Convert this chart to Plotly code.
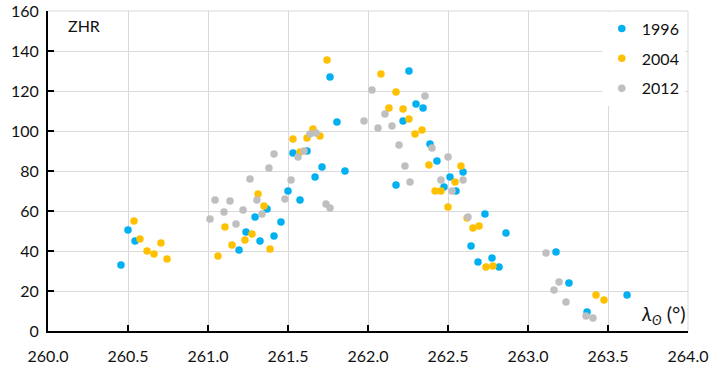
import plotly.graph_objects as go

# 1996
x1996 = [260.456, 260.5, 260.544, 261.194, 261.2375, 261.294, 261.325, 261.369, 261.4125, 261.456,
         261.5, 261.531, 261.575, 261.619, 261.669, 261.7125, 261.7625, 261.806, 261.856, 262.175,
         262.219, 262.256, 262.3, 262.344, 262.3875, 262.431, 262.475, 262.5125, 262.55, 262.594,
         262.644, 262.6875, 262.731, 262.775, 262.819, 262.8625, 263.175, 263.256, 263.369, 263.619]
y1996 = [33, 50.5, 45, 40.5, 49.5, 57, 45, 61, 47.5, 54.5,
         70, 89, 65.5, 90, 77, 82, 127, 104.5, 80, 73,
         105, 130, 113.5, 111.5, 93.5, 85, 72, 77, 70, 79.5,
         42.5, 34.5, 58.5, 36.5, 32, 49, 39.5, 24, 9.5, 18]

# 2004
x2004 = [260.5375, 260.575, 260.619, 260.6625, 260.706, 260.744, 261.0625, 261.106, 261.15, 261.231,
         261.275, 261.3125, 261.35, 261.3875, 261.531, 261.575, 261.619, 261.656, 261.7, 261.744,
         262.081, 262.131, 262.175, 262.219, 262.256, 262.294, 262.3375, 262.381, 262.419, 262.456,
         262.5, 262.544, 262.581, 262.619, 262.656, 262.694, 262.7375, 262.781, 263.425, 263.475]
y2004 = [55, 46, 40, 38.5, 44, 36, 37.5, 52, 43, 45.5,
         48.5, 68.5, 62.5, 41, 96, 89.5, 96.5, 101, 97.5, 135.5,
         128.5, 111.5, 119.5, 111, 106, 98.5, 100.5, 83, 70, 70,
         62, 74.5, 82.5, 56.5, 51.5, 52.5, 32, 32.5, 18, 15.5]

# 2012
x2012 = [261.0125, 261.044, 261.1, 261.1375, 261.175, 261.219, 261.2625, 261.306, 261.3375, 261.381,
         261.4125, 261.481, 261.519, 261.5625, 261.6, 261.6375, 261.675, 261.7375, 261.7625, 261.975,
         262.025, 262.0625, 262.106, 262.15, 262.194, 262.231, 262.2625, 262.356, 262.4, 262.456,
         262.5, 262.525, 262.594, 262.625, 263.1125, 263.1625, 263.194, 263.2375, 263.3625, 263.406]
y2012 = [56, 65.5, 59.5, 65, 53.5, 60.5, 76, 65.5, 58.5, 81.5,
         88.5, 66, 75.5, 87, 90, 98.5, 99, 63.5, 61.5, 105,
         120.5, 101.5, 108.5, 102.5, 93, 82.5, 74.5, 117.5, 91.5, 75.5,
         87, 70, 75.5, 57, 39, 20.5, 24.5, 14.5, 7.5, 6.5]

x_ticks = [260.0, 260.5, 261.0, 261.5, 262.0, 262.5, 263.0, 263.5, 264.0]
x_tick_labels = ["260.0", "260.5", "261.0", "261.5", "262.0", "262.5", "263.0", "263.5", "264.0"]
y_ticks = [0, 20, 40, 60, 80, 100, 120, 140, 160]

FONT = "Lato"
fig = go.Figure()
for name, xs, ys, col in [("1996", x1996, y1996, "#00B0F0"),
                          ("2004", x2004, y2004, "#FFC000"),
                          ("2012", x2012, y2012, "#BFBFBF")]:
    fig.add_trace(go.Scatter(x=xs, y=ys, mode="markers", name=name, legendgroup=name,
                             marker=dict(color=col, size=7.5, line=dict(width=0))))

fig.update_layout(
    width=717, height=368,
    margin=dict(l=48, r=29, t=11, b=37),
    plot_bgcolor="white", paper_bgcolor="white",
    font=dict(family=FONT, size=16, color="#111111"),
    showlegend=True,
    legend=dict(x=0.995, xanchor="right", y=0.998, yanchor="top", bgcolor="white",
                font=dict(family=FONT, size=16), tracegroupgap=6, itemwidth=30,
                borderwidth=0),
    xaxis=dict(range=[260, 264], tickvals=x_ticks, ticktext=x_tick_labels,
               showgrid=True, gridcolor="#D9D9D9", gridwidth=1,
               showline=True, linecolor="black", linewidth=2,
               ticks="inside", ticklen=6, tickcolor="black", tickwidth=2,
               ticklabelstandoff=10, zeroline=False, mirror=False, automargin=False,
               tickfont=dict(family=FONT, size=16)),
    yaxis=dict(range=[0, 160], tickvals=y_ticks,
               showgrid=True, gridcolor="#D9D9D9", gridwidth=1,
               showline=True, linecolor="black", linewidth=2,
               ticks="inside", ticklen=6, tickcolor="black", tickwidth=2,
               ticklabelstandoff=4, zeroline=False, automargin=False,
               tickfont=dict(family=FONT, size=16)),
    annotations=[
        dict(text="ZHR", xref="paper", yref="paper", x=0.028, y=0.99,
             xanchor="left", yanchor="top", showarrow=False,
             font=dict(family=FONT, size=16)),
        dict(text="<i>λ</i><sub><i>ʘ</i></sub> (°)", xref="paper", yref="paper",
             x=1.0, y=0.0, xanchor="right", yanchor="bottom", yshift=1, showarrow=False,
             font=dict(family=FONT, size=20)),
    ],
)
# gridline at top / right edges
fig.add_shape(type="line", xref="paper", yref="paper", x0=0, x1=1, y0=1, y1=1,
              line=dict(color="#D9D9D9", width=1), layer="below")
fig.add_shape(type="line", xref="paper", yref="paper", x0=1, x1=1, y0=0, y1=1,
              line=dict(color="#D9D9D9", width=1), layer="below")

fig.write_html("out.html", config={"displayModeBar": False},
               post_script="document.body.style.margin='0';document.body.style.padding='0';")
